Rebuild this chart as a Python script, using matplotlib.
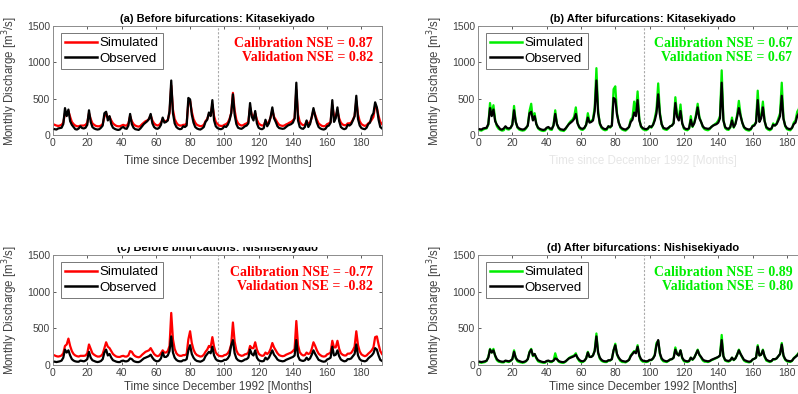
import numpy as np
import matplotlib
matplotlib.use("Agg")
import matplotlib.pyplot as plt
from matplotlib.patches import Rectangle

# monthly discharge [m3/s], month 1 = Jan 1993
obs_kita = [
    80, 75, 90, 95, 100, 150, 370, 260, 350, 190, 140, 110,
    80, 75, 90, 120, 95, 90, 100, 140, 340, 180, 110, 90,
    80, 75, 80, 100, 130, 300, 320, 200, 260, 150, 100, 85,
    75, 70, 75, 100, 110, 90, 85, 130, 290, 150, 100, 80,
    75, 70, 90, 120, 150, 170, 190, 220, 290, 160, 110, 90,
    85, 100, 140, 240, 170, 180, 200, 330, 750, 300, 160, 110,
    90, 80, 85, 120, 110, 130, 510, 490, 280, 170, 110, 90,
    80, 75, 90, 110, 180, 210, 310, 260, 480, 200, 120, 95,
    85, 80, 90, 120, 110, 140, 200, 300, 560, 280, 150, 100,
    90, 85, 100, 120, 130, 160, 440, 250, 200, 330, 160, 100,
    85, 80, 95, 210, 120, 160, 250, 380, 230, 180, 120, 95,
    90, 85, 90, 110, 130, 140, 150, 170, 230, 720, 200, 110,
    90, 85, 110, 200, 110, 150, 250, 370, 260, 170, 110, 90,
    80, 75, 85, 120, 130, 170, 480, 180, 230, 380, 190, 110,
    90, 80, 90, 140, 130, 150, 200, 260, 540, 220, 130, 95,
    85, 80, 100, 150, 170, 260, 300, 450, 380, 210, 110, 90,
]
sim_kita_before = [
    140, 130, 125, 130, 140, 170, 300, 280, 330, 250, 180, 150,
    130, 120, 120, 130, 130, 130, 140, 170, 300, 220, 160, 140,
    125, 120, 120, 130, 150, 250, 300, 240, 250, 200, 160, 140,
    125, 120, 120, 130, 140, 130, 130, 160, 260, 190, 150, 130,
    120, 115, 125, 150, 170, 190, 200, 220, 270, 200, 160, 140,
    130, 140, 170, 220, 190, 190, 210, 300, 680, 350, 220, 170,
    140, 130, 130, 140, 140, 160, 450, 470, 320, 220, 170, 140,
    130, 120, 125, 140, 190, 220, 290, 270, 420, 260, 180, 150,
    130, 125, 125, 140, 150, 170, 220, 300, 580, 340, 210, 160,
    140, 130, 135, 150, 160, 180, 380, 280, 240, 300, 210, 160,
    140, 130, 135, 190, 160, 180, 240, 340, 250, 210, 170, 140,
    130, 125, 130, 145, 155, 170, 180, 200, 230, 620, 280, 180,
    150, 135, 140, 190, 160, 170, 240, 340, 280, 210, 160, 140,
    125, 120, 125, 150, 160, 180, 410, 260, 260, 330, 230, 170,
    145, 135, 135, 160, 160, 170, 210, 260, 470, 280, 190, 150,
    135, 125, 135, 160, 180, 210, 250, 400, 370, 260, 180, 150,
]
sim_kita_after = [
    65, 60, 75, 85, 90, 140, 440, 280, 410, 210, 120, 85,
    70, 60, 65, 110, 80, 75, 95, 150, 400, 180, 100, 75,
    65, 60, 65, 90, 130, 330, 430, 210, 300, 150, 90, 70,
    60, 55, 60, 90, 100, 75, 70, 140, 340, 150, 90, 65,
    60, 55, 80, 120, 160, 190, 210, 250, 380, 170, 100, 75,
    70, 90, 140, 300, 180, 190, 220, 380, 920, 330, 150, 95,
    75, 65, 70, 120, 100, 130, 630, 670, 300, 170, 100, 75,
    65, 60, 80, 110, 210, 240, 460, 300, 600, 220, 110, 80,
    70, 65, 80, 120, 100, 140, 230, 350, 710, 310, 150, 85,
    75, 70, 90, 120, 130, 170, 520, 280, 220, 420, 160, 85,
    70, 65, 85, 260, 110, 170, 280, 430, 250, 180, 110, 80,
    70, 65, 80, 115, 130, 150, 165, 200, 260, 890, 210, 95,
    75, 70, 100, 240, 100, 160, 280, 470, 280, 170, 100, 75,
    65, 60, 75, 130, 140, 180, 610, 200, 260, 460, 200, 95,
    75, 65, 80, 160, 130, 160, 230, 300, 720, 240, 120, 80,
    70, 65, 95, 170, 200, 320, 360, 560, 460, 230, 100, 75,
]
obs_nishi = [
    45, 40, 45, 50, 60, 100, 210, 170, 200, 130, 80, 60,
    50, 45, 45, 60, 55, 50, 60, 80, 180, 100, 65, 55,
    45, 40, 45, 55, 80, 170, 210, 130, 150, 100, 65, 55,
    45, 40, 40, 55, 60, 50, 50, 60, 90, 80, 55, 45,
    40, 40, 50, 70, 90, 100, 110, 120, 140, 100, 70, 55,
    50, 60, 90, 170, 110, 110, 130, 190, 390, 170, 100, 70,
    55, 50, 50, 65, 65, 80, 200, 270, 150, 100, 70, 55,
    50, 45, 55, 70, 120, 150, 180, 160, 250, 130, 80, 60,
    55, 50, 55, 70, 70, 90, 130, 270, 340, 160, 90, 65,
    55, 50, 60, 75, 80, 100, 210, 150, 130, 200, 100, 65,
    55, 50, 55, 100, 75, 100, 150, 200, 140, 110, 75, 60,
    55, 50, 55, 70, 80, 90, 100, 110, 130, 340, 120, 70,
    60, 55, 65, 100, 70, 90, 140, 200, 150, 110, 70, 60,
    50, 45, 50, 75, 85, 100, 250, 130, 140, 200, 120, 75,
    60, 50, 55, 80, 80, 90, 120, 150, 280, 130, 80, 60,
    55, 50, 60, 90, 110, 130, 160, 230, 210, 130, 70, 55,
]
sim_nishi_before = [
    130, 120, 115, 120, 130, 160, 260, 280, 360, 260, 190, 150,
    130, 120, 115, 125, 125, 125, 130, 160, 280, 220, 160, 140,
    125, 115, 115, 125, 150, 230, 310, 250, 230, 190, 150, 130,
    115, 110, 110, 120, 125, 115, 115, 130, 190, 180, 140, 120,
    110, 105, 115, 140, 160, 180, 190, 200, 230, 190, 150, 130,
    120, 130, 160, 200, 170, 170, 190, 260, 710, 350, 220, 160,
    135, 125, 125, 135, 135, 150, 350, 460, 300, 210, 160, 135,
    125, 115, 120, 140, 180, 210, 260, 240, 380, 250, 170, 140,
    125, 120, 120, 135, 140, 160, 200, 280, 580, 320, 200, 150,
    135, 125, 130, 145, 150, 170, 260, 230, 230, 310, 210, 155,
    135, 125, 130, 170, 150, 170, 220, 300, 240, 200, 160, 135,
    125, 120, 125, 140, 150, 160, 170, 190, 220, 600, 270, 175,
    145, 130, 135, 170, 150, 160, 220, 310, 260, 200, 155, 135,
    120, 115, 120, 145, 155, 170, 330, 240, 240, 330, 220, 160,
    140, 130, 130, 155, 155, 165, 200, 250, 460, 270, 185, 145,
    130, 120, 130, 155, 175, 200, 240, 380, 390, 280, 190, 150,
]
sim_nishi_after = [
    35, 30, 35, 40, 55, 110, 220, 170, 220, 120, 65, 45,
    40, 35, 35, 55, 45, 40, 55, 80, 200, 90, 50, 40,
    35, 30, 35, 50, 80, 180, 220, 120, 150, 90, 50, 40,
    35, 30, 30, 50, 55, 40, 40, 60, 160, 80, 45, 35,
    30, 30, 45, 70, 95, 110, 120, 130, 160, 90, 55, 40,
    40, 55, 90, 180, 110, 110, 130, 200, 430, 160, 85, 55,
    45, 40, 40, 60, 60, 80, 200, 290, 140, 90, 55, 40,
    40, 35, 50, 70, 130, 160, 190, 170, 270, 120, 65, 45,
    45, 40, 45, 65, 65, 90, 140, 300, 330, 150, 75, 50,
    45, 40, 55, 75, 80, 100, 240, 150, 130, 200, 90, 50,
    45, 40, 50, 100, 70, 100, 150, 210, 140, 100, 60, 45,
    45, 40, 50, 65, 75, 85, 95, 110, 130, 410, 120, 60,
    50, 45, 60, 100, 65, 90, 140, 210, 150, 100, 60, 45,
    40, 35, 45, 75, 85, 100, 270, 130, 140, 210, 110, 60,
    50, 40, 50, 80, 75, 90, 120, 150, 300, 120, 70, 50,
    45, 40, 55, 95, 115, 140, 170, 210, 200, 120, 60, 45,
]

titles = ["(a) Before bifurcations: Kitasekiyado",
          "(b) After bifurcations: Kitasekiyado",
          "(c) Before bifurcations: Nishisekiyado",
          "(d) After bifurcations: Nishisekiyado"]
nse_cal = ["0.87", "0.67", "-0.77", "0.89"]
nse_val = ["0.82", "0.67", "-0.82", "0.80"]
split_month = 96.5

months = np.arange(1, len(obs_kita) + 1)
panels = [(sim_kita_before, obs_kita), (sim_kita_after, obs_kita),
          (sim_nishi_before, obs_nishi), (sim_nishi_after, obs_nishi)]
sim_colors = ["#ff0000", "#00ee00", "#ff0000", "#00ee00"]

W, H = 798, 394
fig = plt.figure(figsize=(W / 100, H / 100), dpi=100)
plt.rcParams['font.family'] = ['Liberation Sans', 'DejaVu Sans']

# axes boxes in pixels: left, top, right, bottom
boxes = [(53, 26, 382, 135), (478, 26, 807.5, 135),
         (53, 255, 382, 365), (478, 255, 807.5, 365)]
text_x = [0.973, 0.953, 0.973, 0.956]
gray = "#404040"

for i, (sim, obs) in enumerate(panels):
    l, t, r, b = boxes[i]
    ax = fig.add_axes([l / W, (H - b) / H, (r - l) / W, (b - t) / H])
    ax.axvline(split_month, color="#aaaaaa", lw=0.8, ls=(0, (2, 1.5)), zorder=1)
    ax.plot(months, sim, color=sim_colors[i], lw=1.6, label="Simulated", zorder=2)
    ax.plot(months, obs, color="black", lw=1.6, label="Observed", zorder=3)
    ax.set_xlim(0, 192)
    ax.set_ylim(0, 1500)
    ax.set_xticks(np.arange(0, 181, 20))
    ax.set_yticks([0, 500, 1000, 1500])
    ax.tick_params(direction="in", top=True, right=True, labelsize=7.5,
                   length=2.5, width=0.6, colors=gray, pad=2)
    for s in ax.spines.values():
        s.set_color("#8c8c8c")
        s.set_linewidth(0.7)
    ax.set_title(titles[i], fontsize=8, fontweight="bold", pad=3)
    xl_color = "#e6e6e6" if i == 1 else gray
    ax.set_xlabel("Time since December 1992 [Months]", fontsize=8.3,
                  color=xl_color, labelpad=5 if i < 2 else 2.5)
    ax.set_ylabel("Monthly Discharge [m$^3$/s]", fontsize=8.3, color=gray,
                  labelpad=5)
    leg = ax.legend(loc="upper left", bbox_to_anchor=(0.024, 0.936),
                    borderaxespad=0, fontsize=9.5, fancybox=False,
                    framealpha=1, edgecolor="#777777", handlelength=2.4,
                    handletextpad=0.25, labelspacing=0.25, borderpad=0.3)
    leg.get_frame().set_linewidth(0.7)
    for h in leg.get_lines():
        h.set_linewidth(1.8)
    ax.text(text_x[i], 0.775,
            f"Calibration NSE = {nse_cal[i]}\nValidation NSE = {nse_val[i]}",
            transform=ax.transAxes, ha="right", va="center", ma="right",
            fontsize=10, fontweight="bold", color=sim_colors[i],
            family=["Liberation Serif", "DejaVu Serif"], linespacing=1.05)

# top half of panel (c) title is hidden in the source picture
fig.patches.append(Rectangle((100 / W, (H - 246.5) / H), 250 / W, 12 / H,
                             transform=fig.transFigure, facecolor="white",
                             edgecolor="none", zorder=10))

fig.savefig("out.png", dpi=100)
